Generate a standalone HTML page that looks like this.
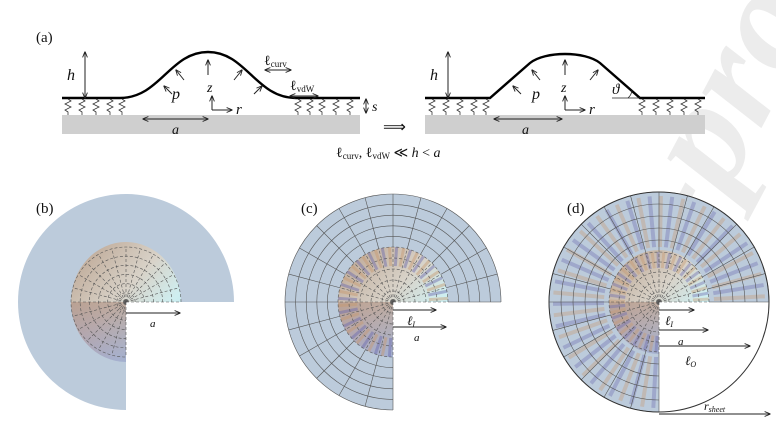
<!DOCTYPE html>
<html><head><meta charset="utf-8"><style>
html,body{margin:0;padding:0;background:#fff;}
svg{display:block;font-family:"Liberation Serif",serif;}
</style></head><body>
<svg id="s" width="776" height="431" viewBox="0 0 776 431" xmlns="http://www.w3.org/2000/svg">
<defs>
<marker id="ah" viewBox="0 0 10 10" refX="9" refY="5" markerWidth="6" markerHeight="6" orient="auto-start-reverse"><path d="M0,1 L10,5 L0,9" fill="none" stroke="#222" stroke-width="1.5"/></marker>
<linearGradient id="dg" x1="0" y1="0" x2="1" y2="1">
<stop offset="0" stop-color="#b9a08c"/><stop offset="0.45" stop-color="#d8d2c8"/><stop offset="0.7" stop-color="#cfeef0"/><stop offset="1" stop-color="#a9e2f4"/></linearGradient>
<linearGradient id="dg2" x1="0" y1="0" x2="0" y2="1">
<stop offset="0" stop-color="#b09080"/><stop offset="1" stop-color="#8a86b8"/></linearGradient>
</defs>
<text x="670" y="300" font-size="150" font-weight="bold" font-style="italic" fill="#ececec" transform="rotate(-62 670 300)">e-proof</text>
<g id="dyn"></g>
</svg>
<script>
var s=document.getElementById('dyn'),NS='http://www.w3.org/2000/svg';
function el(t,a,p){var e=document.createElementNS(NS,t);for(var k in a)e.setAttribute(k,a[k]);(p||s).appendChild(e);return e;}
function tx(x,y,str,sz,ex){var e=el('text',Object.assign({x:x,y:y,'font-size':sz||13,fill:'#111'},ex||{}));e.innerHTML=str;return e;}
function arr(x1,y1,x2,y2,both){el('line',{x1:x1,y1:y1,x2:x2,y2:y2,stroke:'#222','stroke-width':1,'marker-end':'url(#ah)','marker-start':both?'url(#ah)':''});}
// panel a
tx(36,42,'(a)',15);
el('rect',{x:62,y:115,width:298,height:19,fill:'#cfcfcf'});
el('rect',{x:425,y:115,width:280,height:19,fill:'#cfcfcf'});
el('path',{d:'M62,98 L120,98 C160,98 170,52 208,52 C246,52 256,98 296,98 L360,98',stroke:'#000','stroke-width':2.4,fill:'none'});
el('path',{d:'M425,98 L490,98 L530,63 C545,51 585,51 600,63 L640,98 L705,98',stroke:'#000','stroke-width':2.4,fill:'none'});
function spring(x){el('path',{d:'M'+x+',99 l3,2 l-6,3 l6,3 l-6,3 l3,2 L'+x+',115',stroke:'#333','stroke-width':0.8,fill:'none'});}
[68,82,96,110,122,298,310,322,336,350,432,446,460,474,486,642,656,670,684,698].forEach(spring);
arr(85,98,85,52,true);tx(67,80,'h',16,{'font-style':'italic'});
arr(448,98,448,52,true);tx(430,80,'h',16,{'font-style':'italic'});
arr(143,119,208,119,true);tx(172,134,'a',14,{'font-style':'italic'});
arr(494,119,562,119,true);tx(522,134,'a',14,{'font-style':'italic'});
[[208,75,208,60],[184,80,176,70],[234,80,242,70],[172,94,164,86],[254,94,262,86],[521,94,513,86],[540,80,532,70],[565,75,565,60],[590,80,598,70]].forEach(function(a){arr(a[0],a[1],a[2],a[3]);});
tx(172,99,'p',16,{'font-style':'italic'});tx(532,99,'p',16,{'font-style':'italic'});
tx(207,92,'z',14,{'font-style':'italic'});tx(561,92,'z',14,{'font-style':'italic'});
el('path',{d:'M212,110 L212,96',stroke:'#222','marker-end':'url(#ah)'});arr(212,110,232,110);tx(236,114,'r',15,{'font-style':'italic'});
el('path',{d:'M565,110 L565,96',stroke:'#222','marker-end':'url(#ah)'});arr(565,110,585,110);tx(589,114,'r',15,{'font-style':'italic'});
tx(264,65,'ℓ<tspan font-size="9" dy="2">curv</tspan>',14);arr(265,70,291,70,true);
tx(290,90,'ℓ<tspan font-size="9" dy="2">vdW</tspan>',14);arr(290,96,318,96,true);
arr(366,99,366,113,true);tx(372,111,'s',14,{'font-style':'italic'});
tx(612,94,'ϑ',15,{'font-style':'italic'});el('line',{x1:612,y1:98,x2:640,y2:98,stroke:'#222','stroke-width':0.8});el('path',{d:'M628,98 A12,12 0 0 0 632,90',stroke:'#222',fill:'none','stroke-width':0.8});
tx(383,132,'⟹',16);
tx(336,157,'ℓ<tspan font-size="9" dy="2">curv</tspan><tspan dy="-2">, ℓ</tspan><tspan font-size="9" dy="2">vdW</tspan><tspan dy="-2"> ≪ <tspan font-style="italic">h</tspan> &lt; <tspan font-style="italic">a</tspan></tspan>',14);
// panels
function threeQ(cx,cy,r,fill){el('path',{d:'M'+cx+','+cy+' L'+(cx+r)+','+cy+' A'+r+','+r+' 0 1 0 '+cx+','+(cy+r)+' Z',fill:fill});}
function disk(cx,cy,rx,ry){el('path',{d:'M'+cx+','+cy+' L'+(cx+rx)+','+cy+' A'+rx+','+ry+' 0 1 0 '+cx+','+(cy+ry)+' Z',fill:'url(#dg)'});el('path',{d:'M'+cx+','+cy+' L'+(cx-rx)+','+cy+' A'+rx+','+ry+' 0 0 0 '+cx+','+(cy+ry)+' Z',fill:'url(#dg2)',opacity:0.6});}
function grid(cx,cy,r0,r1,n,dash,step){for(var i=1;i<=n;i++){var r=r0+(r1-r0)*i/n;el('path',{d:'M'+(cx+r)+','+cy+' A'+r+','+r+' 0 1 0 '+cx+','+(cy+r),fill:'none',stroke:'#555','stroke-width':0.6,'stroke-dasharray':dash});}
for(var a=0;a<=270;a+=step){var t=-a*Math.PI/180;el('line',{x1:cx+r0*Math.cos(t),y1:cy+r0*Math.sin(t),x2:cx+r1*Math.cos(t),y2:cy+r1*Math.sin(t),stroke:'#555','stroke-width':0.6,'stroke-dasharray':dash});}}
function stripes(cx,cy,r0,r1,n,op,w){for(var i=0;i<n;i++){var a=(i+0.5)*270/n,t=-a*Math.PI/180;el('line',{x1:cx+r0*Math.cos(t),y1:cy+r0*Math.sin(t),x2:cx+r1*Math.cos(t),y2:cy+r1*Math.sin(t),stroke:i%2?'#6a6ab0':'#c89a70','stroke-width':w||3,opacity:op});}}
// b
tx(36,213,'(b)',15);
threeQ(126,302,108,'#bccbdb');
disk(126,302,55,60);grid(126,302,0,55,6,'3,2',15);
arr(126,313,180,313);tx(150,327,'a',11,{'font-style':'italic'});
// c
tx(301,213,'(c)',15);
threeQ(393,302,108,'#bccbdb');
disk(393,302,55,55);stripes(393,302,36,55,36,0.45,3);
grid(393,302,55,108,5,'',15);grid(393,302,0,55,5,'3,2',15);
arr(393,310,436,310);tx(407,325,'ℓ<tspan font-size="8" dy="2">I</tspan>',13,{'font-style':'italic'});
arr(393,327,446,327);tx(414,341,'a',11,{'font-style':'italic'});
// d
tx(567,213,'(d)',15);
el('circle',{cx:659,cy:302,r:110,fill:'#fff'});
threeQ(659,302,110,'#bccbdb');
stripes(659,302,55,106,44,0.35,4);
disk(659,302,50,52);stripes(659,302,34,50,40,0.4,3);
grid(659,302,50,110,5,'',15);grid(659,302,0,50,5,'3,2',15);
el('circle',{cx:659,cy:302,r:110,fill:'none',stroke:'#333','stroke-width':1});
arr(659,310,694,310);tx(665,325,'ℓ<tspan font-size="8" dy="2">I</tspan>',13,{'font-style':'italic'});
arr(659,330,708,330);tx(678,345,'a',11,{'font-style':'italic'});
arr(659,346,750,346);tx(685,365,'ℓ<tspan font-size="8" dy="2">O</tspan>',13,{'font-style':'italic'});
arr(659,414,770,414);tx(704,410,'r<tspan font-size="8" dy="2">sheet</tspan>',12,{'font-style':'italic'});
</script>
</body></html>
